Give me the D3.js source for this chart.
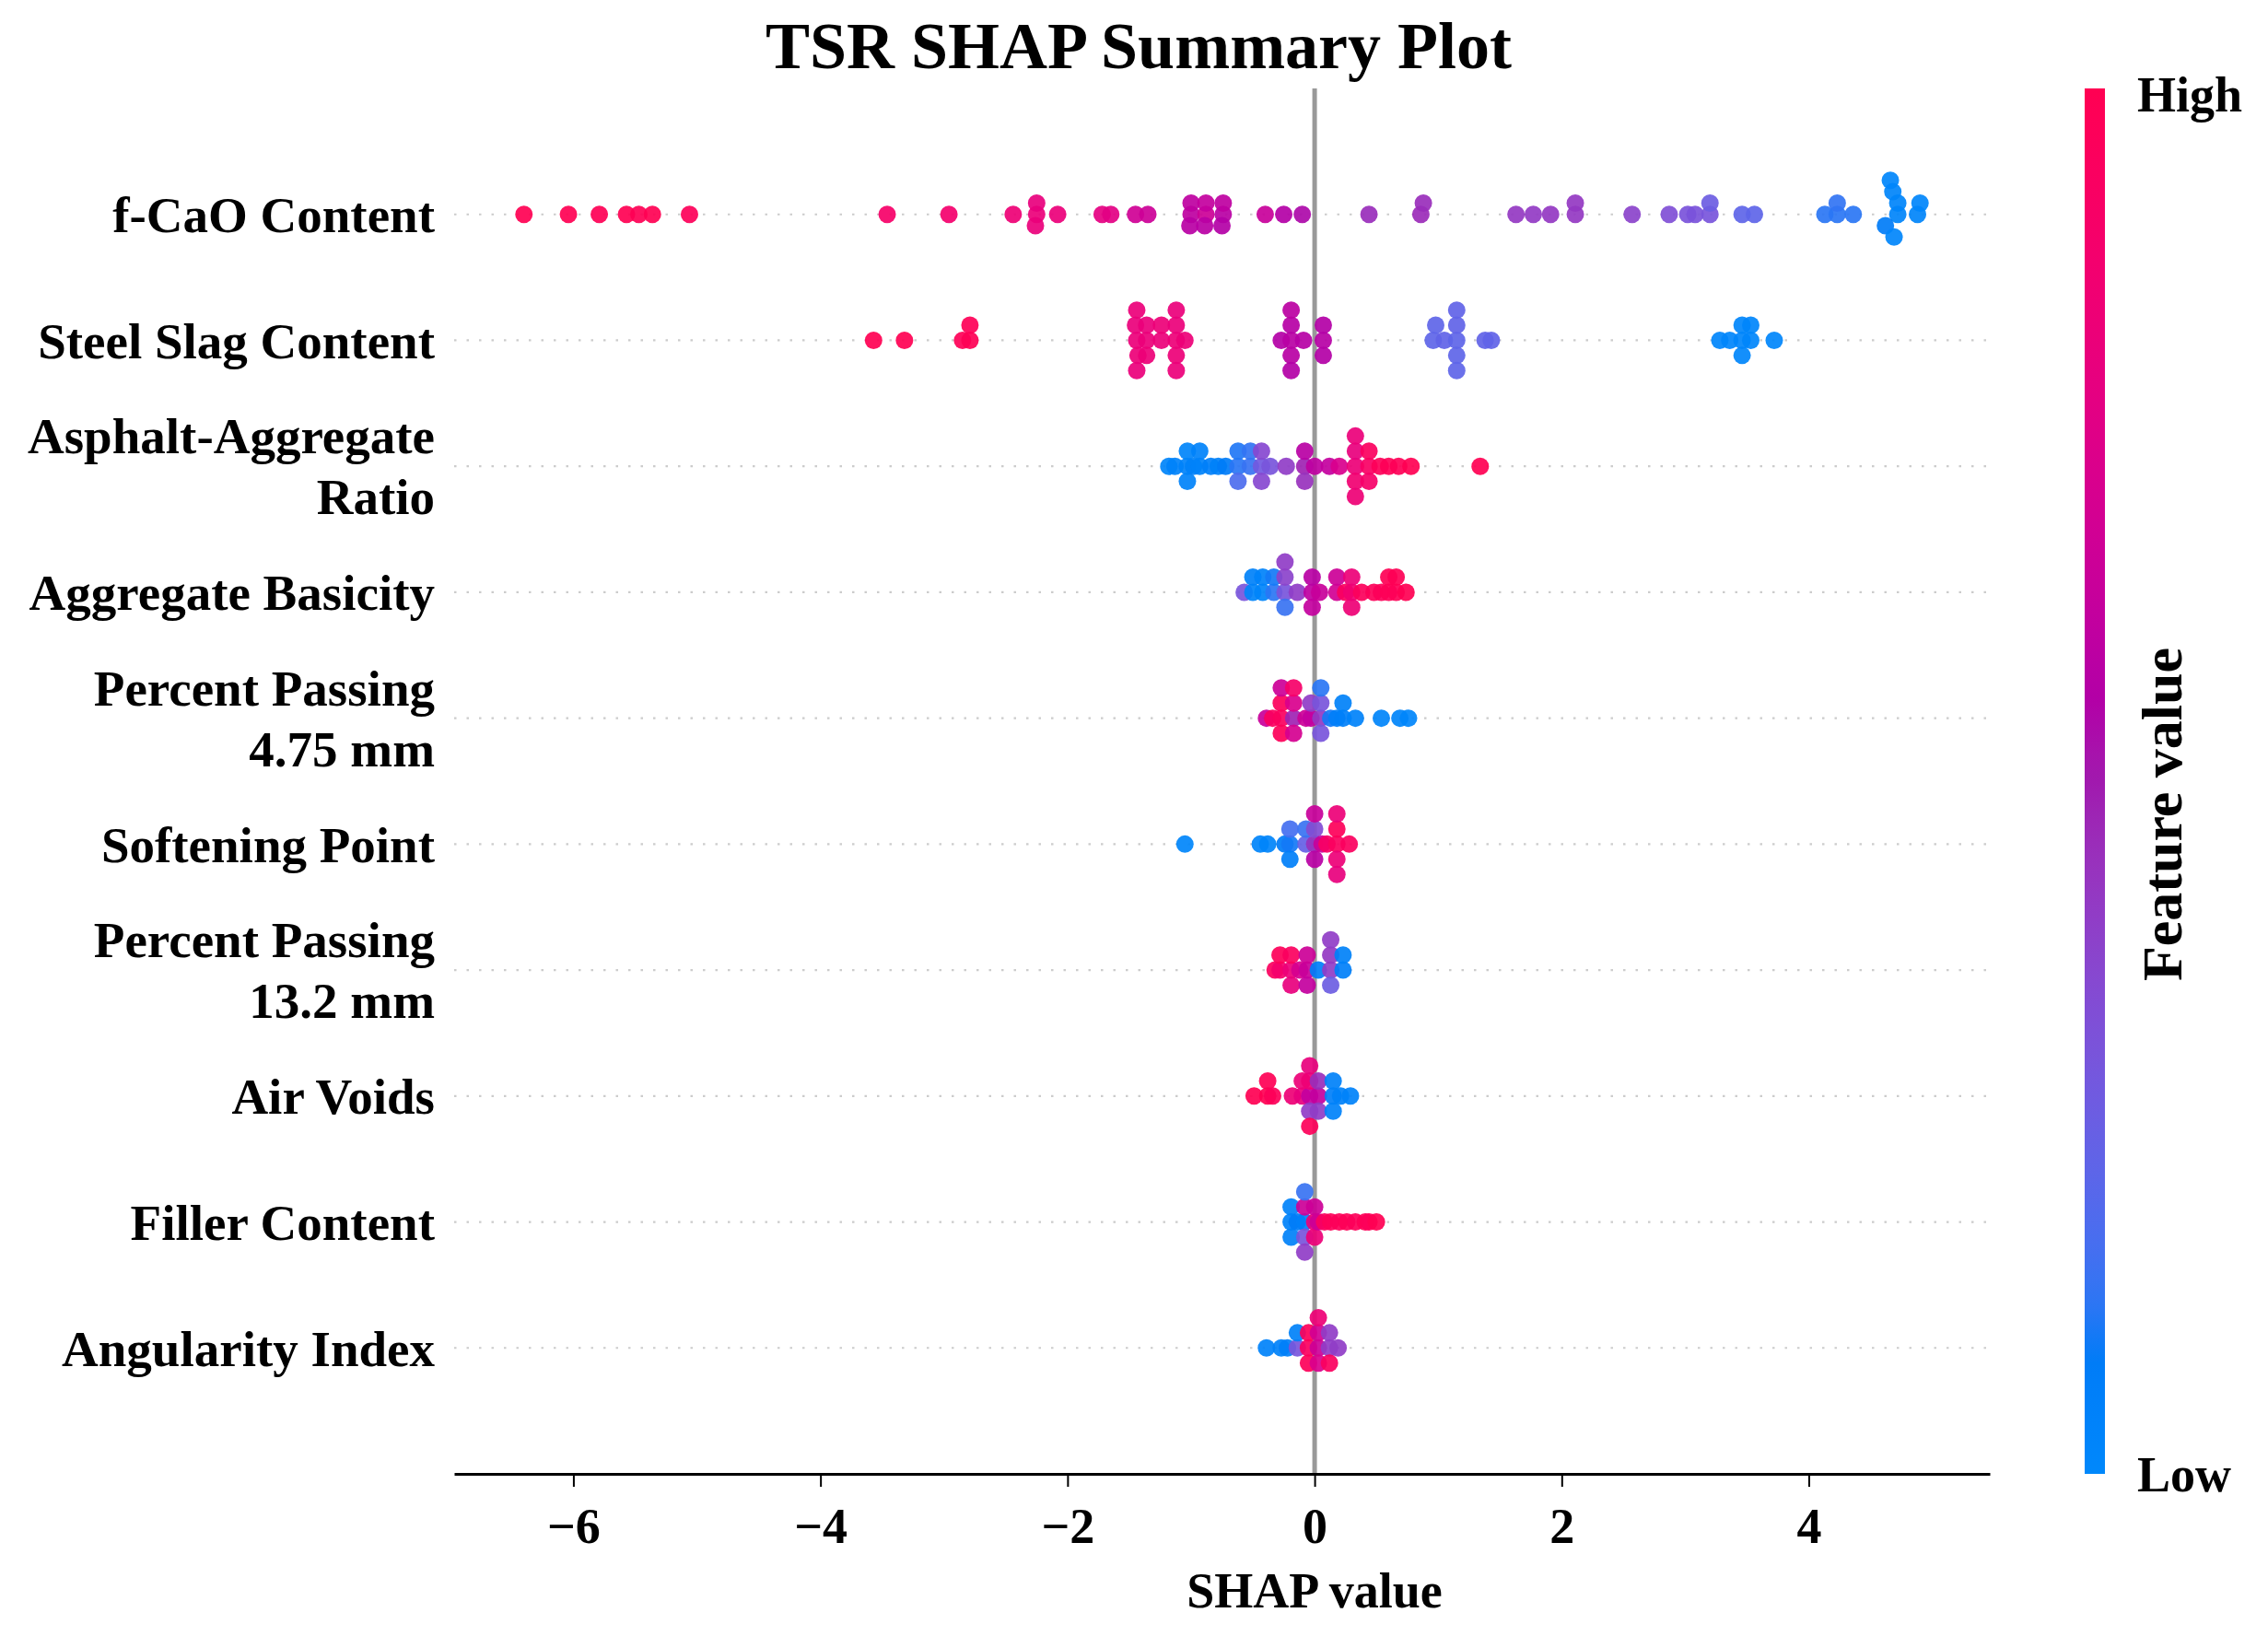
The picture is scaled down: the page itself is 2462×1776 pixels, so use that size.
<!DOCTYPE html>
<html>
<head>
<meta charset="utf-8">
<script src="https://cdn.jsdelivr.net/npm/d3@7"></script>
<style>
body { margin: 0; background: #fff; }
svg { display: block; }
text { font-family: "Liberation Serif", "Times New Roman", serif; font-weight: bold; fill: #000; }
</style>
</head>
<body>
<svg id="chart" width="2462" height="1776"></svg>
<script>
// feature names, top to bottom (multi-line labels as arrays)
var features = [
    ["f-CaO Content"],
    ["Steel Slag Content"],
    ["Asphalt-Aggregate", "Ratio"],
    ["Aggregate Basicity"],
    ["Percent Passing", "4.75 mm"],
    ["Softening Point"],
    ["Percent Passing", "13.2 mm"],
    ["Air Voids"],
    ["Filler Content"],
    ["Angularity Index"]
];

// SHAP values and normalised feature values (0 = low, 1 = high)
var fcaoShap = [-6.40, -6.04, -5.79, -5.57, -5.47, -5.36, -5.06, -3.46, -2.96, -2.44,
    -2.25, -2.25, -2.26, -2.08, -1.72, -1.65, -1.45, -1.35, -1.00, -1.00, -1.01,
    -0.88, -0.88, -0.89, -0.74, -0.74, -0.75, -0.40, -0.25, -0.10, 0.44, 0.86, 0.88,
    1.63, 1.77, 1.91, 2.11, 2.11, 2.57, 2.87, 3.02, 3.08, 3.20, 3.20, 3.46, 3.56,
    4.13, 4.23, 4.23, 4.36, 4.72, 4.72, 4.62, 4.68, 4.69, 4.66, 4.88, 4.90];
var fcaoValue = [1.0, 1.0, 0.99, 1.0, 0.99, 1.0, 0.97, 0.9, 0.88, 0.84,
    0.82, 0.8, 0.81, 0.82, 0.78, 0.77, 0.67, 0.66, 0.6, 0.6, 0.58,
    0.66, 0.62, 0.58, 0.58, 0.6, 0.56, 0.64, 0.56, 0.54, 0.45, 0.46, 0.45,
    0.42, 0.41, 0.42, 0.42, 0.42, 0.38, 0.33, 0.31, 0.31, 0.3, 0.26, 0.22, 0.22,
    0.12, 0.12, 0.13, 0.12, 0.03, 0.03, 0.08, 0.03, 0.02, 0.02, 0.03, 0.02];

var slagShap = [-3.57, -3.32, -2.85, -2.79, -2.79, -1.44, -1.45, -1.43, -1.44, -1.44,
    -1.36, -1.36, -1.36, -1.24, -1.24, -1.12, -1.12, -1.12, -1.12, -1.12, -1.05,
    -0.27, -0.19, -0.19, -0.19, -0.19, -0.19, -0.09, 0.07, 0.07, 0.07,
    0.96, 0.98, 1.05, 1.15, 1.15, 1.15, 1.15, 1.15, 1.38, 1.43,
    3.28, 3.36, 3.46, 3.46, 3.46, 3.53, 3.53, 3.72];
var slagValue = [1.0, 1.0, 0.98, 0.99, 0.98, 0.82, 0.81, 0.83, 0.82, 0.81,
    0.82, 0.81, 0.83, 0.82, 0.83, 0.83, 0.82, 0.83, 0.81, 0.82, 0.83,
    0.56, 0.58, 0.57, 0.58, 0.59, 0.56, 0.57, 0.57, 0.56, 0.56,
    0.22, 0.22, 0.23, 0.22, 0.23, 0.22, 0.23, 0.22, 0.23, 0.23,
    0.02, 0.02, 0.02, 0.02, 0.02, 0.02, 0.02, 0.02];

var ratioShap = [-1.18, -1.13, -1.03, -1.03, -1.03, -0.98, -0.93, -0.93, -0.84, -0.78,
    -0.72, -0.62, -0.62, -0.62, -0.52, -0.52, -0.43, -0.43, -0.43, -0.36, -0.23,
    -0.08, -0.08, -0.08, 0.00, 0.12, 0.20, 0.33, 0.33, 0.33, 0.33, 0.33,
    0.44, 0.44, 0.44, 0.53, 0.60, 0.68, 0.78, 1.34];
var ratioValue = [0.03, 0.04, 0.04, 0.03, 0.04, 0.05, 0.04, 0.04, 0.06, 0.05,
    0.08, 0.12, 0.11, 0.18, 0.14, 0.13, 0.28, 0.36, 0.36, 0.3, 0.4,
    0.48, 0.58, 0.44, 0.6, 0.62, 0.72, 0.83, 0.8, 0.86, 0.82, 0.84,
    0.92, 0.95, 0.9, 0.97, 0.98, 0.98, 1.0, 1.0];

var basicityShap = [-0.57, -0.50, -0.50, -0.42, -0.42, -0.33, -0.33, -0.24, -0.24, -0.24, -0.24,
    -0.14, -0.02, -0.02, -0.02, 0.04, 0.18, 0.18, 0.25, 0.30, 0.30, 0.30,
    0.38, 0.48, 0.54, 0.60, 0.60, 0.66, 0.66, 0.74];
var basicityValue = [0.3, 0.03, 0.05, 0.03, 0.04, 0.12, 0.1, 0.3, 0.38, 0.14, 0.4,
    0.4, 0.6, 0.58, 0.62, 0.64, 0.68, 0.66, 0.95, 0.86, 0.83, 0.84,
    0.96, 0.97, 0.97, 0.98, 0.99, 0.98, 0.99, 1.0];

var pass475Shap = [-0.39, -0.34, -0.27, -0.27, -0.27, -0.27, -0.17, -0.17, -0.17, -0.17,
    -0.07, -0.03, -0.03, 0.05, 0.05, 0.05, 0.05, 0.13, 0.18, 0.23, 0.23, 0.33, 0.54, 0.69, 0.76];
var pass475Value = [0.64, 0.95, 0.95, 0.96, 0.97, 0.66, 0.48, 0.72, 0.7, 0.9,
    0.66, 0.62, 0.4, 0.42, 0.3, 0.3, 0.12, 0.1, 0.06, 0.06, 0.05, 0.04, 0.03, 0.03, 0.02];

var softeningShap = [-1.05, -0.44, -0.38, -0.24, -0.20, -0.20, -0.20, -0.07, -0.07,
    0.00, 0.00, 0.00, 0.00, 0.06, 0.10, 0.18, 0.18, 0.18, 0.18, 0.18, 0.28];
var softeningValue = [0.02, 0.03, 0.03, 0.08, 0.1, 0.16, 0.06, 0.24, 0.14,
    0.44, 0.34, 0.58, 0.64, 0.64, 0.92, 0.95, 0.97, 0.83, 0.83, 0.8, 0.95];

var pass132Shap = [-0.32, -0.28, -0.28, -0.19, -0.19, -0.19, -0.12, -0.06, -0.06, -0.06,
    0.03, 0.13, 0.13, 0.13, 0.13, 0.23, 0.23];
var pass132Value = [0.95, 0.88, 0.97, 0.82, 0.95, 0.8, 0.7, 0.64, 0.66, 0.62,
    0.06, 0.4, 0.42, 0.26, 0.4, 0.06, 0.05];

var voidsShap = [-0.49, -0.38, -0.38, -0.34, -0.18, -0.10, -0.10,
    -0.04, -0.04, -0.04, -0.04, -0.04, 0.03, 0.03, 0.03, 0.15, 0.15, 0.15, 0.21, 0.29];
var voidsValue = [1.0, 1.0, 0.99, 0.97, 0.84, 0.8, 0.83,
    0.62, 0.84, 0.4, 0.8, 0.97, 0.62, 0.45, 0.4, 0.06, 0.05, 0.04, 0.05, 0.04];

var fillerShap = [-0.19, -0.19, -0.19, -0.14, -0.08, -0.08, -0.08, -0.08, -0.08,
    0.00, 0.00, 0.00, 0.03, 0.08, 0.13, 0.20, 0.26, 0.33, 0.41, 0.44, 0.50];
var fillerValue = [0.04, 0.04, 0.05, 0.08, 0.06, 0.66, 0.3, 0.14, 0.4,
    0.83, 0.66, 0.83, 0.66, 0.95, 0.97, 0.97, 0.98, 0.97, 0.98, 0.97, 1.0];

var angularityShap = [-0.39, -0.27, -0.22, -0.14, -0.14, -0.05, -0.05, -0.05,
    0.03, 0.03, 0.03, 0.03, 0.12, 0.12, 0.12, 0.19];
var angularityValue = [0.04, 0.05, 0.06, 0.3, 0.05, 0.95, 0.97, 0.97,
    0.66, 0.68, 0.72, 0.84, 0.4, 0.4, 0.95, 0.4];

var xTicks = [-6, -4, -2, 0, 2, 4];

var rows = [
    { shap: fcaoShap, value: fcaoValue },
    { shap: slagShap, value: slagValue },
    { shap: ratioShap, value: ratioValue },
    { shap: basicityShap, value: basicityValue },
    { shap: pass475Shap, value: pass475Value },
    { shap: softeningShap, value: softeningValue },
    { shap: pass132Shap, value: pass132Value },
    { shap: voidsShap, value: voidsValue },
    { shap: fillerShap, value: fillerValue },
    { shap: angularityShap, value: angularityValue }
];

var canvas = { width: 2462, height: 1776 },
    plot = { left: 493, right: 2160, top: 96, bottom: 1600 },
    dotRadius = 9.5,
    rowHeight = 0.4,
    labelSize = 55,
    lineGap = 66;

var svg = d3.select("#chart");
svg.append("rect")
    .attr("width", canvas.width)
    .attr("height", canvas.height)
    .attr("fill", "#fff");

// shap's red_blue map: lightness dips in the middle, hue swings blue -> red
function shapColor(t) {
    var l = t < 0.5 ? 54 - 14 * (t / 0.5) : 40 + 14 * ((t - 0.5) / 0.5),
        c = 70 + 20 * t,
        h0 = 4.6588,
        h1 = 0.35470565 + 2 * Math.PI,
        h = (h0 + (h1 - h0) * t) * 180 / Math.PI;
    return d3.hcl(h, c, l).formatRgb();
}

// same binning/layering as shap.summary_plot
function swarm(vals) {
    var lo = d3.min(vals), hi = d3.max(vals),
        nbins = 100,
        quant = vals.map(function(v) { return Math.round(nbins * (v - lo) / (hi - lo + 1e-8)); }),
        order = d3.range(vals.length).sort(function(a, b) { return quant[a] - quant[b] || a - b; }),
        ys = vals.map(function() { return 0; }),
        layer = 0,
        lastBin = -1;
    order.forEach(function(i) {
        if (quant[i] !== lastBin) layer = 0;
        ys[i] = Math.ceil(layer / 2) * ((layer % 2) * 2 - 1);
        layer++;
        lastBin = quant[i];
    });
    var k = 0.9 * (rowHeight / (d3.max(ys) + 1));
    return ys.map(function(v) { return v * k; });
}

var allShap = d3.merge(rows.map(function(r) { return r.shap; })),
    ext = d3.extent(allShap),
    pad = (ext[1] - ext[0]) * 0.05;

var x = d3.scaleLinear()
    .domain([ext[0] - pad, ext[1] + pad])
    .range([plot.left, plot.right]);

var y = d3.scaleLinear()
    .domain([-1, features.length])
    .range([plot.bottom, plot.top]);

function rowPos(i) { return features.length - 1 - i; }

// dotted row guides
svg.append("g").selectAll("line")
    .data(features).enter()
    .append("line")
    .attr("x1", plot.left)
    .attr("x2", plot.right)
    .attr("y1", function(d, i) { return y(rowPos(i)); })
    .attr("y2", function(d, i) { return y(rowPos(i)); })
    .attr("stroke", "#cccccc")
    .attr("stroke-width", 2.2)
    .attr("stroke-dasharray", "2.5 11");

// zero line
svg.append("line")
    .attr("x1", x(0)).attr("x2", x(0))
    .attr("y1", plot.top).attr("y2", plot.bottom)
    .attr("stroke", "#999999")
    .attr("stroke-width", 5);

// beeswarm dots
rows.forEach(function(row, i) {
    var ys = swarm(row.shap),
        pos = rowPos(i);
    svg.append("g").selectAll("circle")
        .data(row.shap).enter()
        .append("circle")
        .attr("cx", function(d) { return x(d); })
        .attr("cy", function(d, j) { return y(pos + ys[j]); })
        .attr("r", dotRadius)
        .attr("fill", function(d, j) { return shapColor(row.value[j]); })
        .attr("fill-opacity", 0.92);
});

// feature labels
var labels = svg.append("g")
    .attr("text-anchor", "end")
    .style("font-size", labelSize + "px");
features.forEach(function(lines, i) {
    var cy = y(rowPos(i)),
        first = cy - (lines.length - 1) * lineGap / 2;
    lines.forEach(function(line, k) {
        labels.append("text")
            .attr("x", plot.left - 21)
            .attr("y", first + k * lineGap)
            .attr("dy", "0.35em")
            .text(line);
    });
});

// x axis
var xAxis = svg.append("g")
    .attr("transform", "translate(0," + plot.bottom + ")")
    .call(d3.axisBottom(x).tickValues(xTicks).tickSize(14).tickSizeOuter(0).tickPadding(23));
xAxis.select(".domain").attr("stroke", "#000").attr("stroke-width", 3);
xAxis.selectAll(".tick line").attr("stroke", "#000").attr("stroke-width", 2);
xAxis.selectAll(".tick text")
    .style("font-family", "\"Liberation Serif\", \"Times New Roman\", serif")
    .style("font-weight", "bold")
    .style("font-size", "54px")
    .attr("fill", "#000");

svg.append("text")
    .attr("x", x(0))
    .attr("y", 1745)
    .attr("text-anchor", "middle")
    .style("font-size", "54px")
    .text("SHAP value");

svg.append("text")
    .attr("x", 1236)
    .attr("y", 74)
    .attr("text-anchor", "middle")
    .style("font-size", "72px")
    .text("TSR SHAP Summary Plot");

// colour bar
var grad = svg.append("defs").append("linearGradient")
    .attr("id", "cbar")
    .attr("x1", 0).attr("y1", 1)
    .attr("x2", 0).attr("y2", 0);
grad.selectAll("stop")
    .data(d3.range(0, 1.0001, 0.02)).enter()
    .append("stop")
    .attr("offset", function(d) { return d; })
    .attr("stop-color", shapColor);

var bar = { x: 2263, width: 22 };
svg.append("rect")
    .attr("x", bar.x)
    .attr("y", plot.top)
    .attr("width", bar.width)
    .attr("height", plot.bottom - plot.top)
    .attr("fill", "url(#cbar)");

svg.append("text")
    .attr("x", 2320)
    .attr("y", plot.top + 6)
    .attr("dy", "0.35em")
    .style("font-size", "54px")
    .text("High");
svg.append("text")
    .attr("x", 2320)
    .attr("y", plot.bottom)
    .attr("dy", "0.35em")
    .style("font-size", "54px")
    .text("Low");
svg.append("text")
    .attr("transform", "translate(2368,884) rotate(-90)")
    .attr("text-anchor", "middle")
    .style("font-size", "62px")
    .text("Feature value");
</script>
</body>
</html>
